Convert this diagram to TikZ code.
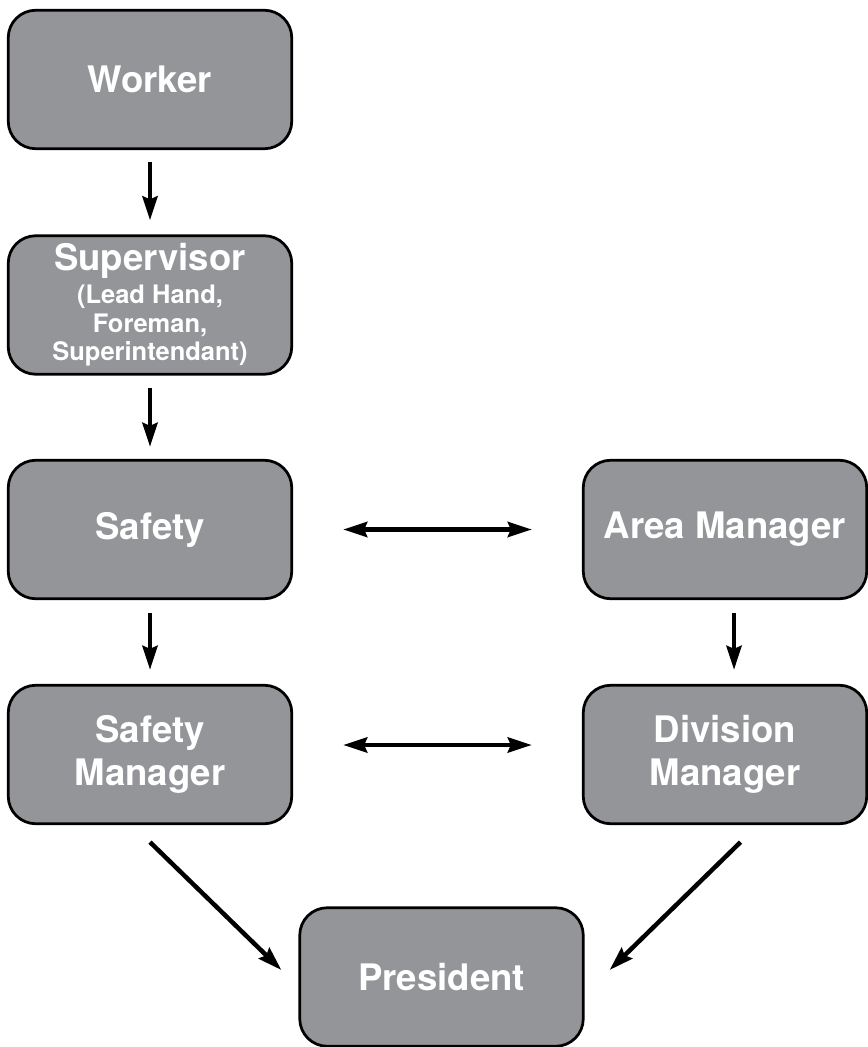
\documentclass[tikz,border=0pt]{standalone}
\usepackage{fontspec}
\setmainfont{TeX Gyre Heros}
\usetikzlibrary{arrows.meta}
\definecolor{boxgray}{RGB}{147,149,152}
\newcommand{\subtxt}{\fontsize{14.5}{16.2}\selectfont}

\begin{document}
\begin{tikzpicture}[
	>={Stealth[length=0.48cm,width=0.3cm,inset=0.06cm]},
	box/.style={draw=black, line width=0.055cm, fill=boxgray, rounded corners=0.55cm,
		minimum width=5.67cm, minimum height=2.77cm, text=white, align=center,
		font=\bfseries\fontsize{20.8}{24.5}\selectfont},
	arr/.style={line width=0.09cm, ->},
	dblarr/.style={line width=0.09cm, <->}
]
	\useasboundingbox (0,0) rectangle (17.36,-20.94);

	%% left column
	\node[box, font=\bfseries\fontsize{20.8}{16.2}\selectfont] (super) at (3.0,-6.10)
		{Supervisor\\[2.5pt]\subtxt (Lead Hand,\\\subtxt Foreman,\\\subtxt Superintendant)};
	\node[box] (worker) at (3.0,-1.59) {Worker};
	\node[box] (safety) at (3.0,-10.59) {Safety};
	\node[box] (smgr) at (3.0,-15.09) {Safety\\Manager};

	%% right column
	\node[box] (area) at (14.5,-10.59) {Area Manager};
	\node[box] (dmgr) at (14.5,-15.09) {Division\\Manager};

	\node[box] (pres) at (8.83,-19.54) {President};

	\draw[arr, shorten <=0.24cm, shorten >=0.28cm] (worker) -- (super);
	\draw[arr, shorten <=0.24cm, shorten >=0.24cm] (super) -- (safety);
	\draw[arr, shorten <=0.26cm, shorten >=0.28cm] (safety) -- (smgr);
	\draw[arr, shorten <=0.26cm, shorten >=0.28cm] ([xshift=0.18cm]area.south) -- ([xshift=0.18cm]dmgr.north);

	\draw[dblarr, shorten <=1cm, shorten >=1cm] (safety) -- (area);
	\draw[dblarr, shorten <=1cm, shorten >=1cm] ([yshift=0.19cm]smgr.east) -- ([yshift=0.19cm]dmgr.west);

	\draw[arr] ([yshift=-0.34cm]smgr.south) -- ([xshift=-0.34cm,yshift=0.14cm]pres.west);
	\draw[arr] ([xshift=0.31cm,yshift=-0.34cm]dmgr.south) -- ([xshift=0.5cm,yshift=0.14cm]pres.east);
\end{tikzpicture}
\end{document}
